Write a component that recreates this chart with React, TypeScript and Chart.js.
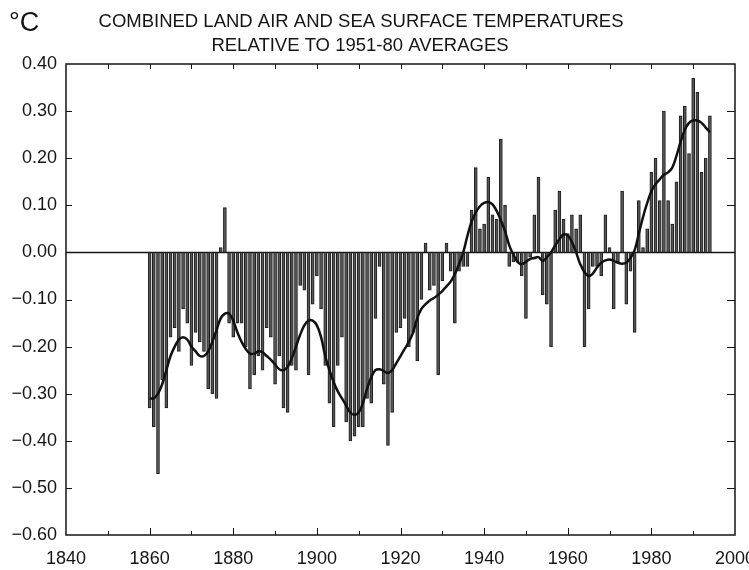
import React, { useEffect, useRef } from 'react';
import { Chart, registerables } from 'chart.js';

Chart.register(...registerables);

// Annual anomalies (°C, relative to 1951-80), first year 1860
const firstYear = 1860;
const anomalies = [
  -0.33, -0.37, -0.47, -0.27, -0.33, -0.18, -0.16, -0.21, -0.12, -0.15, // 1860s
  -0.24, -0.17, -0.19, -0.21, -0.29, -0.30, -0.31, 0.01, 0.095, -0.15, // 1870s
  -0.18, -0.15, -0.15, -0.20, -0.29, -0.26, -0.22, -0.25, -0.16, -0.18, // 1880s
  -0.28, -0.22, -0.33, -0.34, -0.24, -0.25, -0.07, -0.08, -0.26, -0.11, // 1890s
  -0.05, -0.12, -0.24, -0.32, -0.37, -0.24, -0.18, -0.36, -0.40, -0.39, // 1900s
  -0.37, -0.37, -0.31, -0.32, -0.14, -0.03, -0.28, -0.41, -0.34, -0.17, // 1910s
  -0.16, -0.14, -0.20, -0.17, -0.23, -0.10, 0.02, -0.08, -0.07, -0.26, // 1920s
  -0.06, 0.02, -0.04, -0.15, -0.04, -0.03, -0.03, 0.09, 0.18, 0.05, // 1930s
  0.06, 0.16, 0.08, 0.07, 0.24, 0.10, -0.03, -0.02, -0.02, -0.05, // 1940s
  -0.14, -0.01, 0.08, 0.16, -0.09, -0.11, -0.20, 0.09, 0.13, 0.07, // 1950s
  0.04, 0.08, 0.05, 0.08, -0.20, -0.12, -0.03, -0.03, -0.05, 0.08, // 1960s
  0.01, -0.12, -0.02, 0.13, -0.11, -0.04, -0.17, 0.11, 0.01, 0.05, // 1970s
  0.17, 0.20, 0.11, 0.30, 0.11, 0.06, 0.15, 0.29, 0.31, 0.21, // 1980s
  0.37, 0.34, 0.17, 0.20, 0.29, // 1990-94
];

// Smoothed curve, same years
const smoothed = [
  -0.31, -0.31, -0.30, -0.28, -0.25, -0.22, -0.20, -0.185, -0.18, -0.185,
  -0.20, -0.21, -0.22, -0.22, -0.21, -0.19, -0.165, -0.14, -0.13, -0.13,
  -0.145, -0.17, -0.19, -0.205, -0.215, -0.215, -0.21, -0.212, -0.22, -0.228,
  -0.238, -0.248, -0.25, -0.243, -0.225, -0.20, -0.175, -0.155, -0.145, -0.145,
  -0.155, -0.18, -0.22, -0.25, -0.275, -0.295, -0.31, -0.325, -0.34, -0.345,
  -0.34, -0.32, -0.29, -0.265, -0.25, -0.248, -0.252, -0.256, -0.25, -0.235,
  -0.22, -0.205, -0.19, -0.17, -0.14, -0.12, -0.11, -0.102, -0.097, -0.09,
  -0.082, -0.072, -0.062, -0.046, -0.025, 0.0, 0.035, 0.065, 0.085, 0.098,
  0.105, 0.107, 0.102, 0.088, 0.068, 0.045, 0.015, -0.005, -0.02, -0.025,
  -0.02, -0.014, -0.012, -0.01, -0.018, -0.01, 0.0, 0.015, 0.028, 0.038,
  0.036, 0.022, 0.0, -0.025, -0.042, -0.05, -0.045, -0.032, -0.022, -0.017,
  -0.015, -0.018, -0.022, -0.024, -0.022, -0.012, 0.005, 0.04, 0.075, 0.105,
  0.13, 0.145, 0.155, 0.165, 0.17, 0.18, 0.205, 0.235, 0.26, 0.275,
  0.28, 0.28, 0.275, 0.265, 0.255,
];

const years = anomalies.map((_, i) => firstYear + i);

const titleLines = [
  'COMBINED LAND AIR AND SEA SURFACE TEMPERATURES',
  'RELATIVE TO 1951-80 AVERAGES',
];
const unitLabel = '°C';

const xMin = 1840;
const xMax = 2000;
const yMin = -0.6;
const yMax = 0.4;

const FONT = '"Liberation Sans", Arial, Helvetica, sans-serif';
const INK = '#151515';

const framePlugin = {
  id: 'framePlugin',
  beforeDatasetsDraw(chart: any) {
    const { ctx, chartArea: a, scales } = chart;
    const y0 = scales.y.getPixelForValue(0);
    ctx.save();
    ctx.strokeStyle = INK;
    ctx.lineWidth = 1.5;
    ctx.beginPath();
    ctx.moveTo(a.left, y0);
    ctx.lineTo(a.right, y0);
    ctx.stroke();
    ctx.restore();
  },
  afterDatasetsDraw(chart: any) {
    const { ctx, chartArea: a, scales } = chart;
    const xs = scales.x;
    const ys = scales.y;
    ctx.save();
    ctx.strokeStyle = INK;
    ctx.lineWidth = 1.5;
    ctx.strokeRect(a.left, a.top, a.right - a.left, a.bottom - a.top);
    ctx.lineWidth = 1;
    ctx.beginPath();
    for (let yr = xMin + 10; yr < xMax; yr += 10) {
      const px = Math.round(xs.getPixelForValue(yr)) + 0.5;
      const major = (yr - xMin) % 20 === 0;
      ctx.moveTo(px, a.bottom);
      ctx.lineTo(px, a.bottom - (major ? 7 : 4));
      ctx.moveTo(px, a.top);
      ctx.lineTo(px, a.top + 5);
    }
    for (let k = 1; k < 10; k++) {
      const v = yMin + k * 0.1;
      const py = Math.round(ys.getPixelForValue(v)) + 0.5;
      ctx.moveTo(a.left, py);
      ctx.lineTo(a.left + 6, py);
      ctx.moveTo(a.right, py);
      ctx.lineTo(a.right - 8, py);
    }
    ctx.stroke();
    ctx.restore();
  },
  afterDraw(chart: any) {
    const { ctx } = chart;
    ctx.save();
    ctx.fillStyle = INK;
    ctx.textBaseline = 'alphabetic';
    ctx.font = `27px ${FONT}`;
    ctx.textAlign = 'left';
    ctx.fillText(unitLabel, 9, 31);
    ctx.font = `18.5px ${FONT}`;
    ctx.textAlign = 'center';
    ctx.fillText(titleLines[0], 361, 27);
    ctx.fillText(titleLines[1], 360, 51);
    ctx.restore();
  },
};

function fmtY(v: number) {
  const n = Math.round(v * 100) / 100;
  if (Math.abs(n) < 1e-9) return '0.00';
  return n < 0 ? '\u2212' + Math.abs(n).toFixed(2) : n.toFixed(2);
}

export default function App() {
  const ref = useRef<HTMLCanvasElement | null>(null);

  useEffect(() => {
    document.body.style.margin = '0';
    const canvas = ref.current;
    if (!canvas) return;
    const chart = new Chart(canvas, {
      type: 'bar',
      data: {
        datasets: [
          {
            type: 'line',
            data: years.map((x, i) => ({ x, y: smoothed[i] })),
            borderColor: '#111',
            borderWidth: 2.5,
            pointRadius: 0,
            tension: 0.4,
            fill: false,
            order: 0,
          } as any,
          {
            type: 'bar',
            data: years.map((x, i) => ({ x, y: anomalies[i] })),
            backgroundColor: '#555555',
            borderColor: '#1e1e1e',
            borderWidth: 1,
            borderSkipped: false,
            barThickness: 3,
            order: 1,
          } as any,
        ],
      },
      options: {
        responsive: false,
        animation: false,
        devicePixelRatio: 1,
        layout: { padding: { left: 8, right: 14, top: 64, bottom: 0 } },
        plugins: {
          legend: { display: false },
          tooltip: { enabled: false },
          title: { display: false },
        },
        scales: {
          x: {
            type: 'linear',
            min: xMin,
            max: xMax,
            offset: false,
            grid: { display: false, drawTicks: false },
            border: { display: false },
            ticks: {
              stepSize: 20,
              padding: 13,
              color: INK,
              font: { family: FONT, size: 18 },
              maxRotation: 0,
              autoSkip: false,
              callback: (v: any) => String(v),
            },
            afterFit: (s: any) => {
              s.height = 35;
              s.paddingLeft = 0;
              s.paddingRight = 0;
            },
          },
          y: {
            type: 'linear',
            min: yMin,
            max: yMax,
            grid: { display: false, drawTicks: false },
            border: { display: false },
            ticks: {
              stepSize: 0.1,
              padding: 9,
              color: INK,
              font: { family: FONT, size: 18 },
              callback: (v: any) => fmtY(Number(v)),
            },
            afterFit: (s: any) => {
              s.width = 58;
              s.paddingTop = 0;
              s.paddingBottom = 0;
            },
          },
        },
      } as any,
      plugins: [framePlugin],
    });
    return () => chart.destroy();
  }, []);

  return (
    <div style={{ width: 749, height: 570 }}>
      <canvas ref={ref} width={749} height={570} style={{ display: 'block', width: 749, height: 570 }} />
    </div>
  );
}
